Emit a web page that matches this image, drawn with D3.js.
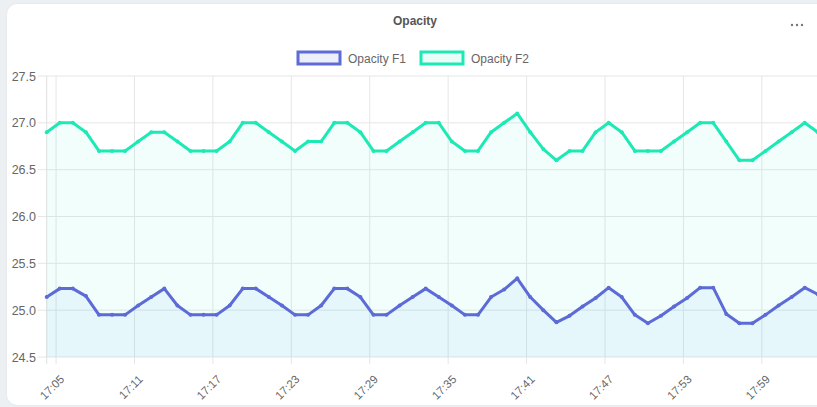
<!DOCTYPE html>
<html>
<head>
<meta charset="utf-8">
<script src="https://cdn.jsdelivr.net/npm/d3@7"></script>
<style>
  body { margin: 0; background: #edf0f3; font-family: "Liberation Sans", Arial, sans-serif; }
  #card { position: absolute; left: 7px; top: 4px; width: 830px; height: 401px; background: #fff;
          border-radius: 10px; box-shadow: 0 0 3px rgba(0,0,0,0.06); }
  #chart { position: absolute; left: 0; top: 0; }
</style>
</head>
<body>
<div id="card"></div>
<div id="chart"></div>
<script>
// first sample time, one sample per minute
var startTime = "17:04:17"
var seriesNames = ["Opacity F1", "Opacity F2"]
var seriesColors = ["#5c6bd6", "#1de9b6"]

var opacityF1 = [25.14, 25.23, 25.23, 25.15, 24.95, 24.95, 24.95, 25.05, 25.14, 25.23,
                 25.05, 24.95, 24.95, 24.95, 25.05, 25.23, 25.23, 25.14, 25.05, 24.95,
                 24.95, 25.05, 25.23, 25.23, 25.14, 24.95, 24.95, 25.05, 25.14, 25.23,
                 25.14, 25.05, 24.95, 24.95, 25.14, 25.22, 25.34, 25.14, 25.0, 24.87,
                 24.94, 25.04, 25.13, 25.24, 25.14, 24.95, 24.86, 24.94, 25.04, 25.13,
                 25.24, 25.24, 24.96, 24.86, 24.86, 24.95, 25.05, 25.14, 25.24, 25.17]

var opacityF2 = [26.9, 27.0, 27.0, 26.9, 26.7, 26.7, 26.7, 26.8, 26.9, 26.9,
                 26.8, 26.7, 26.7, 26.7, 26.8, 27.0, 27.0, 26.9, 26.8, 26.7,
                 26.8, 26.8, 27.0, 27.0, 26.9, 26.7, 26.7, 26.8, 26.9, 27.0,
                 27.0, 26.8, 26.7, 26.7, 26.9, 27.0, 27.1, 26.9, 26.72, 26.6,
                 26.7, 26.7, 26.9, 27.0, 26.9, 26.7, 26.7, 26.7, 26.8, 26.9,
                 27.0, 27.0, 26.8, 26.6, 26.6, 26.7, 26.8, 26.9, 27.0, 26.9]

var yTicks = [24.5, 25.0, 25.5, 26.0, 26.5, 27.0, 27.5]
var xTickLabels = ["17:05", "17:11", "17:17", "17:23", "17:29", "17:35", "17:41", "17:47", "17:53", "17:59"]

var width = 817, height = 407
var plot = {left: 46.7, right: 817.8, top: 76, bottom: 357}

var parseT = d3.timeParse("%H:%M:%S")
var parseTick = d3.timeParse("%H:%M")
var t0 = parseT(startTime)
var times = opacityF1.map((d, i) => d3.timeMinute.offset(t0, i))

var svg = d3.select("#chart").append("svg")
  .attr("width", width)
  .attr("height", height)
  .style("font-family", "'Liberation Sans', Arial, sans-serif")

var x = d3.scaleTime()
  .domain([times[0], times[times.length - 1]])
  .range([plot.left, plot.right])

var y = d3.scaleLinear()
  .domain([24.5, 27.5])
  .range([plot.bottom, plot.top])

// title + menu dots
svg.append("text")
  .attr("x", 415).attr("y", 25)
  .attr("text-anchor", "middle")
  .style("font-size", "12px").style("font-weight", "bold")
  .attr("fill", "#555")
  .text("Opacity")

svg.selectAll(".dot3").data([792, 797, 802]).enter().append("circle")
  .attr("cx", d => d).attr("cy", 25).attr("r", 1.2).attr("fill", "#777")

// legend
var legendX = [298, 421]
var lg = svg.selectAll(".lg").data(seriesNames).enter().append("g")
  .attr("transform", (d, i) => "translate(" + legendX[i] + ",52)")
lg.append("rect")
  .attr("width", 42).attr("height", 12)
  .attr("fill", (d, i) => i == 0 ? "#eceffa" : "#e8fdf7")
  .attr("stroke", (d, i) => seriesColors[i])
  .attr("stroke-width", 3)
lg.append("text")
  .attr("x", 50).attr("y", 10.5)
  .style("font-size", "12px").attr("fill", "#666")
  .text(d => d)

// grid
var grid = svg.append("g")
grid.selectAll(".hg").data(yTicks).enter().append("line")
  .attr("x1", plot.left - 9).attr("x2", width)
  .attr("y1", d => y(d)).attr("y2", d => y(d))
  .attr("stroke", "#e6e6e6")
grid.selectAll(".vg").data(xTickLabels).enter().append("line")
  .attr("x1", d => x(parseTick(d))).attr("x2", d => x(parseTick(d)))
  .attr("y1", plot.top).attr("y2", plot.bottom + 7)
  .attr("stroke", "#e6e6e6")
grid.append("line")
  .attr("x1", plot.left).attr("x2", plot.left)
  .attr("y1", plot.top).attr("y2", plot.bottom + 7)
  .attr("stroke", "#e0e0e0")

// y labels
svg.selectAll(".yl").data(yTicks).enter().append("text")
  .attr("x", 36).attr("y", d => y(d) + 4.5)
  .attr("text-anchor", "end")
  .style("font-size", "12.5px").attr("fill", "#666")
  .text(d => d.toFixed(1))

// x labels
svg.selectAll(".xl").data(xTickLabels).enter().append("text")
  .attr("transform", d => "translate(" + (x(parseTick(d)) + 9) + ",380)rotate(-45)")
  .attr("text-anchor", "end")
  .style("font-size", "11.5px").attr("fill", "#666")
  .text(d => d)

// areas + lines
var allSeries = [opacityF2, opacityF1]
var fills = ["rgba(29,233,182,0.06)", "rgba(100,180,240,0.09)"]
var cols = [seriesColors[1], seriesColors[0]]

allSeries.forEach(function(vals, k) {
  var area = d3.area()
    .x((d, i) => x(times[i]))
    .y0(plot.bottom)
    .y1(d => y(d))
  svg.append("path").datum(vals).attr("d", area).attr("fill", fills[k])
})

allSeries.forEach(function(vals, k) {
  var line = d3.line()
    .x((d, i) => x(times[i]))
    .y(d => y(d))
  svg.append("path").datum(vals)
    .attr("d", line)
    .attr("fill", "none")
    .attr("stroke", cols[k])
    .attr("stroke-width", 3)
    .attr("stroke-linejoin", "round")
  svg.selectAll(null).data(vals).enter().append("circle")
    .attr("cx", (d, i) => x(times[i]))
    .attr("cy", d => y(d))
    .attr("r", 2)
    .attr("fill", cols[k])
})
</script>
</body>
</html>
